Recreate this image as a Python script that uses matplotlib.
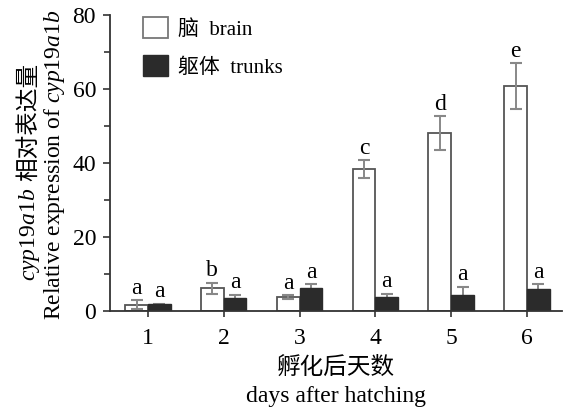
import matplotlib
matplotlib.use("Agg")
import matplotlib.pyplot as plt
import numpy as np

plt.rcParams['font.family'] = ['Liberation Serif', 'Noto Sans CJK SC']
plt.rcParams['mathtext.fontset'] = 'custom'
plt.rcParams['mathtext.rm'] = 'Liberation Serif'
plt.rcParams['mathtext.it'] = 'Liberation Serif:italic'

days = [1, 2, 3, 4, 5, 6]
brain = [1.7, 6.2, 3.8, 38.4, 48.1, 60.8]
brain_err = [1.2, 1.5, 0.5, 2.4, 4.6, 6.2]
trunks = [1.8, 3.6, 6.2, 3.8, 4.2, 5.9]
trunks_err = [0.2, 0.8, 1.0, 0.9, 2.3, 1.4]
brain_letters = ['a', 'b', 'a', 'c', 'd', 'e']
trunks_letters = ['a', 'a', 'a', 'a', 'a', 'a']

fig = plt.figure(figsize=(5.67, 4.11), dpi=100)
ax = fig.add_axes([0.194, 0.2433, 0.797, 0.7202])

x = np.array(days, dtype=float)
w = 0.3
fs = 17
ekw = dict(ecolor='#888888', elinewidth=1.4, capsize=4, capthick=1.5)
ax.bar(x - w/2, brain, w, color='white', edgecolor='#555555', linewidth=1.3,
       label='脑  brain', zorder=2)
ax.bar(x + w/2, trunks, w, color='#2b2b2b', edgecolor='#2b2b2b', linewidth=1,
       label='躯体  trunks', zorder=2)
eb1 = ax.errorbar(x - w/2, brain, yerr=brain_err, fmt='none', zorder=3, **ekw)
eb2 = ax.errorbar(x + w/2, trunks, yerr=trunks_err, fmt='none', zorder=1.5, **ekw)
for eb in (eb1, eb2):
    for cap in eb[1]:
        cap.set_color('#111111')

for xi, v, e, t in zip(x - w/2, brain, brain_err, brain_letters):
    ax.text(xi, v + e + 0.4, t, ha='center', va='bottom', fontsize=fs)
for xi, v, e, t in zip(x + w/2, trunks, trunks_err, trunks_letters):
    ax.text(xi, v + e + 0.4, t, ha='center', va='bottom', fontsize=fs)

ax.set_xlim(0.5, 6.46)
ax.set_ylim(0, 80)
ax.set_yticks([0, 20, 40, 60, 80])
ax.set_yticks([10, 30, 50, 70], minor=True)
ax.set_xticks(days)
ax.set_xticklabels([str(d) for d in days])
for s in ('top', 'right'):
    ax.spines[s].set_visible(False)
for s in ('left', 'bottom'):
    ax.spines[s].set_color('#333333')
    ax.spines[s].set_linewidth(1.3)
ax.tick_params(axis='both', which='major', direction='out', length=5, width=1.2,
               color='#333333', labelsize=fs)
ax.tick_params(axis='x', which='major', pad=8, length=4)
ax.tick_params(axis='y', which='major', pad=5)
ax.tick_params(axis='y', which='minor', direction='out', length=4, width=1.2, color='#333333')

leg = ax.legend(loc='upper left', bbox_to_anchor=(0.031, 1.057), frameon=False, fontsize=15,
                handlelength=1.2, handleheight=1.2, handletextpad=0.5, labelspacing=0.74)
leg.legend_handles[0].set_edgecolor('#777777')

W = fig.bbox.width
H = fig.bbox.height
fig.text(336 / W, 1 - 367 / 411, '孵化后天数', ha='center', va='center', fontsize=fs,
         family=['Noto Sans CJK SC'])
fig.text(336 / W, 1 - 402 / 411, 'days after hatching', ha='center', va='baseline',
         fontsize=fs)

# y label, two lines, rotated
fig.canvas.draw()
r = fig.canvas.get_renderer()
fig.text(60 / W, 1 - 165 / 411,
         r'Relative expression of $\mathit{cyp}$19$\mathit{a}$1$\mathit{b}$',
         rotation=90, rotation_mode='anchor', ha='center', va='baseline', fontsize=fs)
p1 = fig.text(0, 0, r'$\mathit{cyp}$19$\mathit{a}$1$\mathit{b}$', rotation=90,
              rotation_mode='anchor', ha='left', va='baseline', fontsize=fs)
p2 = fig.text(0, 0, '相对表达量', rotation=90, rotation_mode='anchor', ha='left',
              va='baseline', fontsize=fs, family=['Noto Sans CJK SC'])
h1 = p1.get_window_extent(r).height
h2 = p2.get_window_extent(r).height
gap = 6
total = h1 + gap + h2
ycen = H - 172
xb = 35
ystart = ycen - total / 2
p1.set_position((xb / W, ystart / H))
p2.set_position((xb / W, (ystart + h1 + gap) / H))

fig.savefig('out.png', dpi=100)
